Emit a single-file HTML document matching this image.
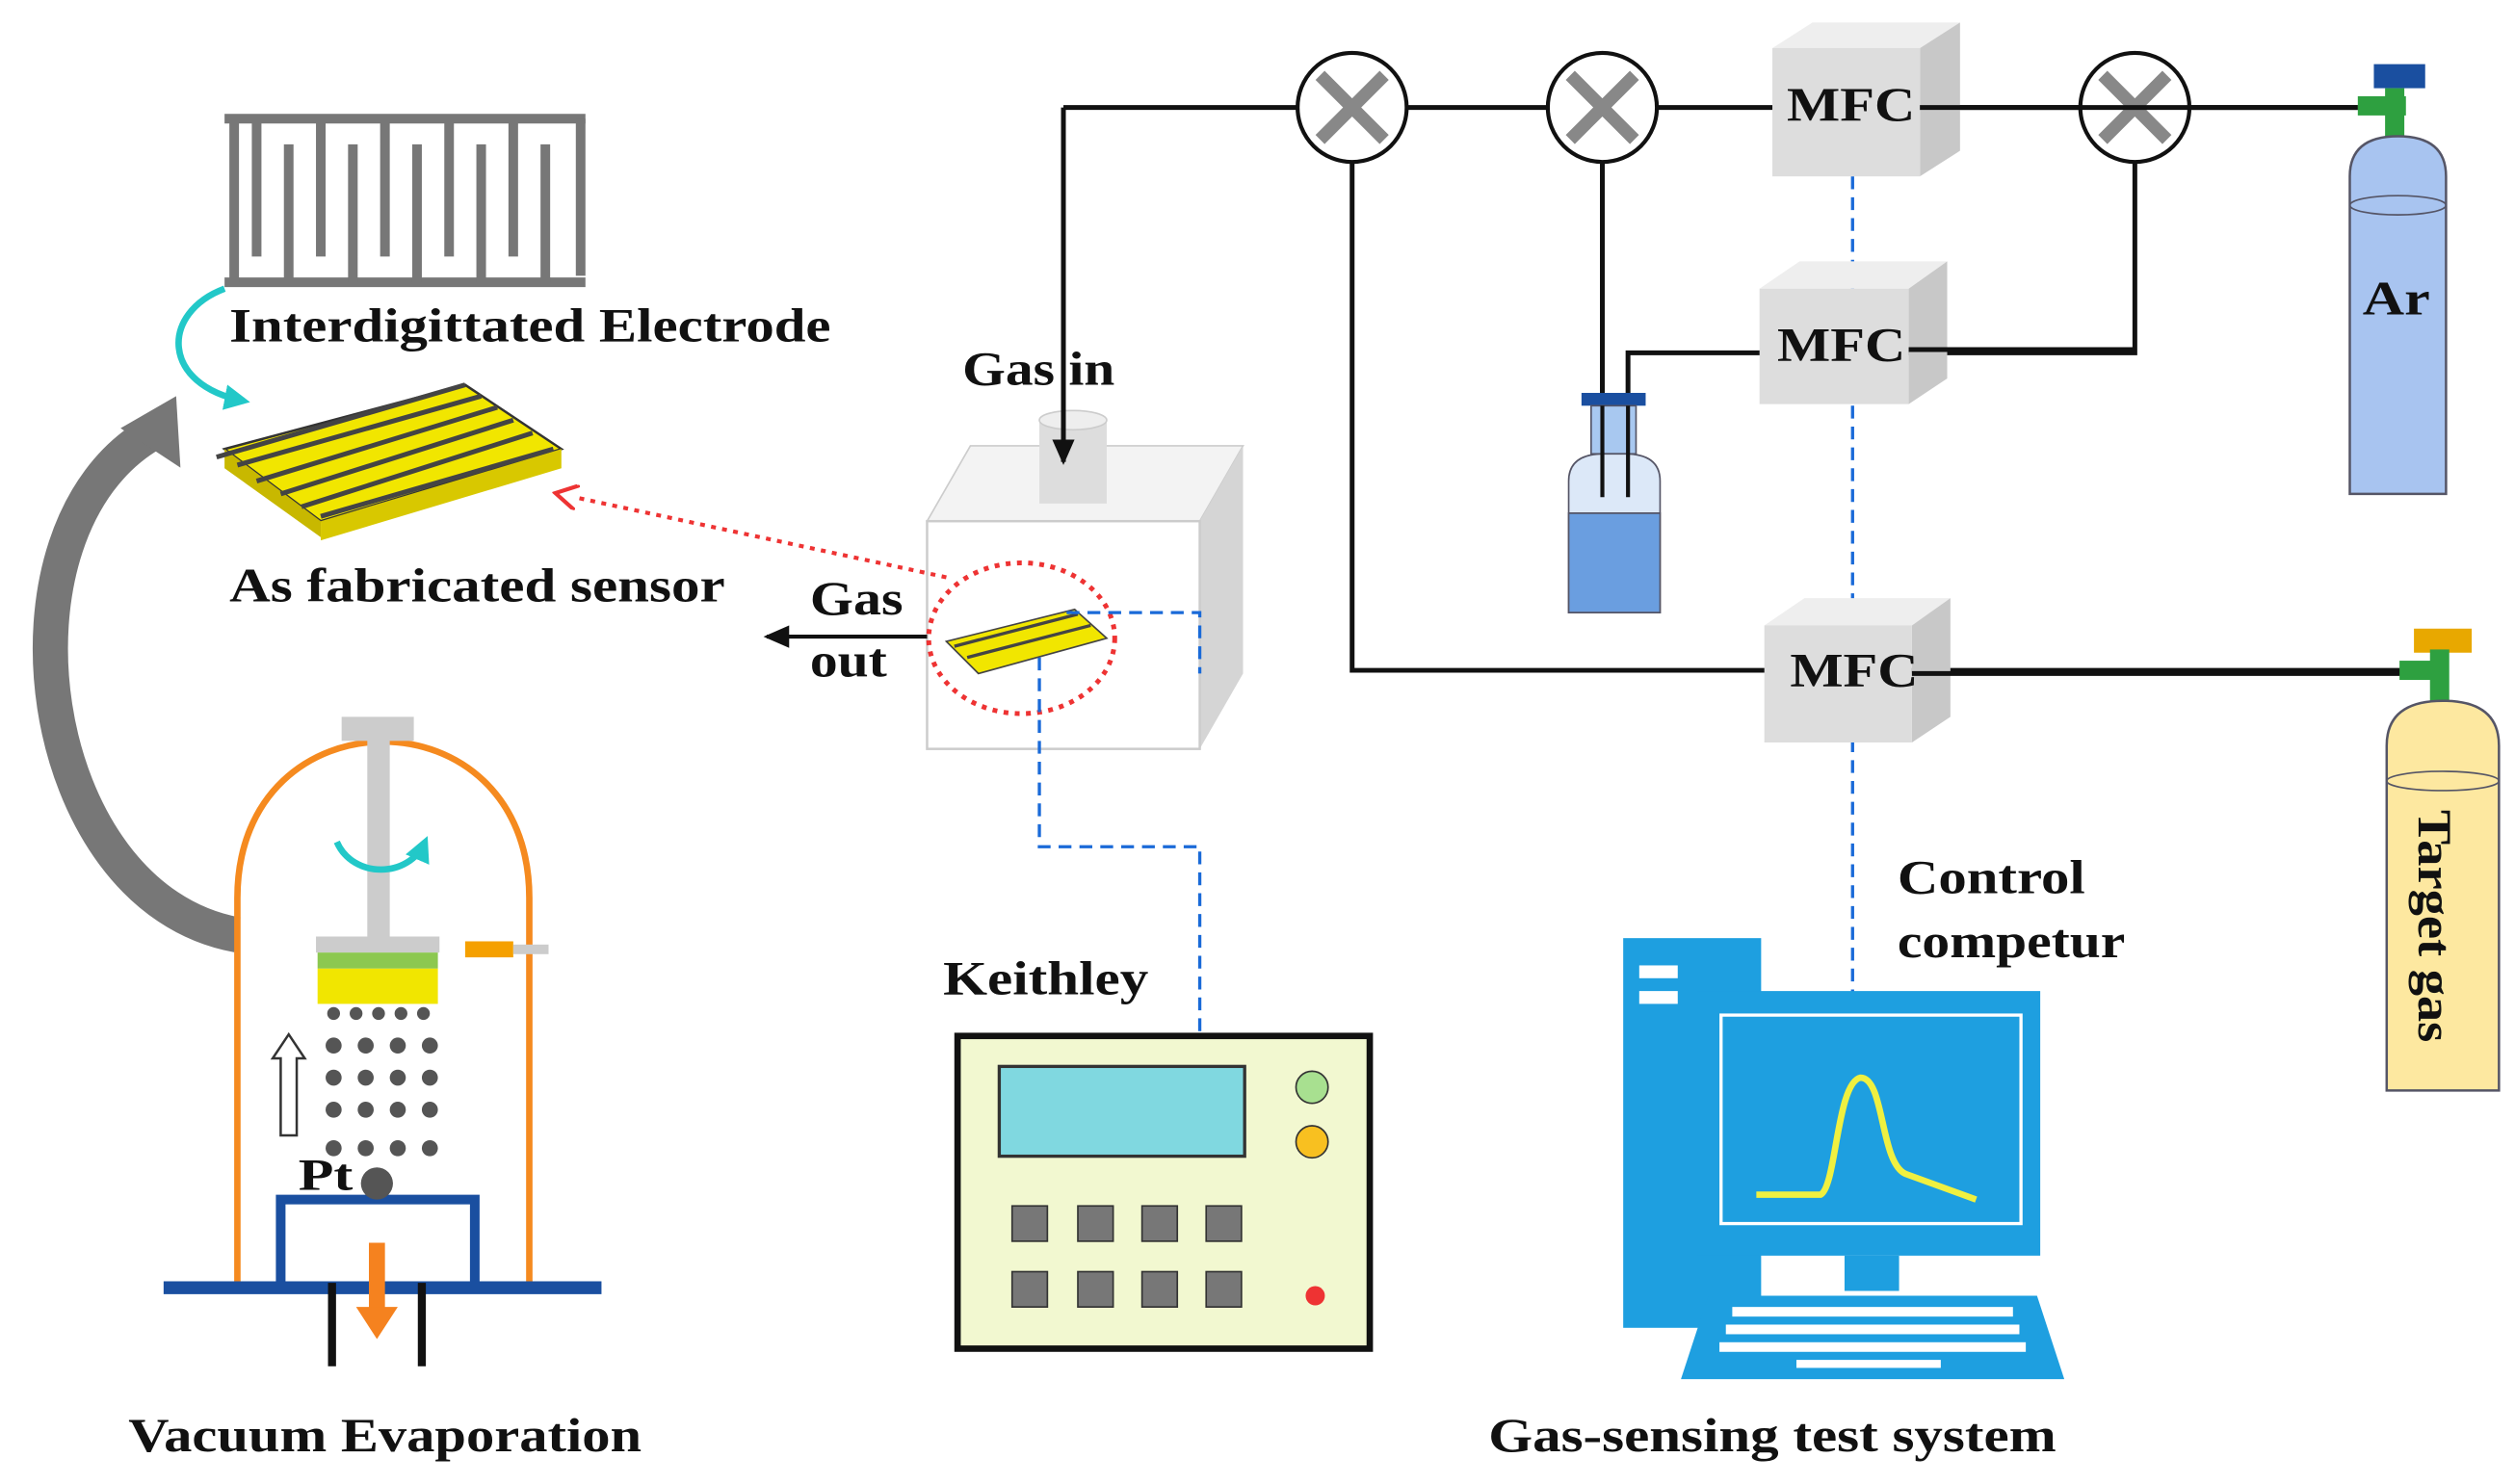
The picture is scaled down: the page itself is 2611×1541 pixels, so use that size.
<!DOCTYPE html>
<html><head><meta charset="utf-8"><style>html,body{margin:0;padding:0;background:#fff}svg{display:block}text{font-family:"Liberation Serif",serif;font-weight:bold;fill:#111}</style></head><body>
<svg width="2611" height="1541" viewBox="0 0 1568 925.4" preserveAspectRatio="none" xmlns="http://www.w3.org/2000/svg">
<defs>
<marker id="ab" markerUnits="userSpaceOnUse" markerWidth="16" markerHeight="14" refX="14" refY="7" orient="auto"><path d="M0,0 L16,7 L0,14 z" fill="#111"/></marker>
<marker id="ar" markerUnits="userSpaceOnUse" markerWidth="16" markerHeight="16" refX="2" refY="8" orient="auto"><path d="M0,0 L14,8 L0,16" fill="none" stroke="#e33" stroke-width="2.5"/></marker>
<marker id="ac" markerUnits="userSpaceOnUse" markerWidth="16" markerHeight="16" refX="12" refY="8" orient="auto"><path d="M0,0 L16,8 L0,16 z" fill="#22c8c8"/></marker>
</defs>
<!-- Interdigitated electrode -->
<g stroke="#777" stroke-width="6" fill="none">
<path d="M140,74 H365 M140,176 H365"/>
<path d="M146,76 V176 M362,74 V172"/>
<path d="M160,76 V160 M180,90 V176 M200,76 V160 M220,90 V176 M240,76 V160 M260,90 V176 M280,76 V160 M300,90 V176 M320,76 V160 M340,90 V176"/>
</g>
<text x="143" y="213" font-size="30" textLength="375" lengthAdjust="spacingAndGlyphs">Interdigittated Electrode</text>
<path d="M140,180 C100,195 100,240 152,250" stroke="#22c8c8" stroke-width="4" fill="none" marker-end="url(#ac)"/>
<!-- sensor -->
<polygon points="140,280 290,240 350,280 200,325" fill="#f1e600" stroke="#333" stroke-width="1.5"/>
<polygon points="140,280 200,325 200,335 140,292" fill="#c8b800"/>
<polygon points="200,325 350,280 350,292 200,337" fill="#d8c800"/>
<g stroke="#444" stroke-width="3"><path d="M135,285 L290,240 M148,290 L300,247 M160,300 L310,254 M175,308 L320,262 M188,316 L332,270 M200,322 L345,280"/></g>
<text x="143" y="375" font-size="30" textLength="309" lengthAdjust="spacingAndGlyphs">As fabricated sensor</text>
<!-- big gray arrow -->
<path d="M148,583 C20,560 -10,330 95,270" stroke="#777" stroke-width="22" fill="none"/>
<polygon points="80,255 120,255 100,295" fill="#777" transform="rotate(-30 100 270)"/>
<!-- vacuum chamber -->
<path d="M148,800 V560 C148,430 330,430 330,560 V800" stroke="#f58a1f" stroke-width="4" fill="none"/>
<path d="M102,803 H375" stroke="#1a4fa0" stroke-width="8"/>
<path d="M175,800 V748 H296 V800" stroke="#1a4fa0" stroke-width="6" fill="none"/>
<path d="M207,852 V800 M263,852 V800" stroke="#111" stroke-width="5"/>
<rect x="213" y="447" width="45" height="15" fill="#ccc"/>
<rect x="229" y="460" width="14" height="130" fill="#ccc"/>
<rect x="197" y="584" width="77" height="10" fill="#ccc"/>
<rect x="198" y="594" width="75" height="10" fill="#8cc850"/>
<rect x="198" y="604" width="75" height="22" fill="#f1e600"/>
<rect x="290" y="587" width="30" height="10" fill="#f5a000"/><rect x="320" y="589" width="22" height="6" fill="#ccc"/>
<path d="M210,525 C220,548 255,548 265,525" stroke="#22c8c8" stroke-width="4" fill="none" marker-end="url(#ac)"/>
<g fill="#555">
<circle cx="208" cy="632" r="4"/><circle cx="222" cy="632" r="4"/><circle cx="236" cy="632" r="4"/><circle cx="250" cy="632" r="4"/><circle cx="264" cy="632" r="4"/>
<circle cx="208" cy="652" r="5"/><circle cx="228" cy="652" r="5"/><circle cx="248" cy="652" r="5"/><circle cx="268" cy="652" r="5"/>
<circle cx="208" cy="672" r="5"/><circle cx="228" cy="672" r="5"/><circle cx="248" cy="672" r="5"/><circle cx="268" cy="672" r="5"/>
<circle cx="208" cy="692" r="5"/><circle cx="228" cy="692" r="5"/><circle cx="248" cy="692" r="5"/><circle cx="268" cy="692" r="5"/>
<circle cx="208" cy="716" r="5"/><circle cx="228" cy="716" r="5"/><circle cx="248" cy="716" r="5"/><circle cx="268" cy="716" r="5"/>
<circle cx="235" cy="738" r="10"/></g>
<path d="M175,708 V660 H170 L180,645 L190,660 H185 V708 Z" fill="#fff" stroke="#333" stroke-width="1.5"/>
<path d="M235,775 V820" stroke="#f5821f" stroke-width="10"/><polygon points="222,815 248,815 235,835" fill="#f5821f"/>
<text x="186" y="742" font-size="28" textLength="34" lengthAdjust="spacingAndGlyphs">Pt</text>
<text x="80" y="905" font-size="30" textLength="320" lengthAdjust="spacingAndGlyphs">Vacuum Evaporation</text>
<!-- gas chamber -->
<polygon points="578,325 605,278 775,278 748,325" fill="#f3f3f3" stroke="#ccc"/>
<polygon points="748,325 775,278 775,420 748,467" fill="#d5d5d5"/>
<rect x="578" y="325" width="170" height="142" fill="#fff" stroke="#ccc" stroke-width="1.5"/>
<rect x="648" y="262" width="42" height="52" fill="#ddd"/><ellipse cx="669" cy="262" rx="21" ry="6" fill="#eee" stroke="#ccc"/>
<text x="600" y="240" font-size="30" textLength="95" lengthAdjust="spacingAndGlyphs">Gas in</text>
<text x="505" y="383" font-size="30" textLength="58" lengthAdjust="spacingAndGlyphs">Gas</text><text x="505" y="422" font-size="30" textLength="48" lengthAdjust="spacingAndGlyphs">out</text>
<path d="M578,397 H478" stroke="#111" stroke-width="2.5" marker-end="url(#ab)"/>
<polygon points="590,400 670,380 690,398 610,420" fill="#f1e600" stroke="#444"/>
<path d="M595,403 L672,383 M603,410 L680,390" stroke="#444" stroke-width="2"/>
<ellipse cx="637" cy="398" rx="58" ry="47" fill="none" stroke="#e33" stroke-width="3" stroke-dasharray="3,4"/>
<path d="M590,360 L358,310" stroke="#e33" stroke-width="2.5" stroke-dasharray="3,4" marker-end="url(#ar)"/>
<path d="M648,410 V528 H748 V645 M665,382 H748 V420" stroke="#1a6ad8" stroke-width="2" stroke-dasharray="8,5" fill="none"/>
<!-- keithley -->
<text x="588" y="620" font-size="30" textLength="128" lengthAdjust="spacingAndGlyphs">Keithley</text>
<rect x="597" y="646" width="257" height="195" fill="#f2f8d0" stroke="#111" stroke-width="4"/>
<rect x="623" y="665" width="153" height="56" fill="#80d8e0" stroke="#333" stroke-width="2"/>
<circle cx="818" cy="678" r="10" fill="#a8e090" stroke="#333"/><circle cx="818" cy="712" r="10" fill="#f8c020" stroke="#333"/>
<g fill="#777" stroke="#333"><rect x="631" y="752" width="22" height="22"/><rect x="672" y="752" width="22" height="22"/><rect x="712" y="752" width="22" height="22"/><rect x="752" y="752" width="22" height="22"/>
<rect x="631" y="793" width="22" height="22"/><rect x="672" y="793" width="22" height="22"/><rect x="712" y="793" width="22" height="22"/><rect x="752" y="793" width="22" height="22"/></g>
<circle cx="820" cy="808" r="6" fill="#e33"/>
<!-- gas lines -->
<g stroke="#111" stroke-width="3" fill="none">
<path d="M663,67 H1470"/>
<path d="M663,67 V288" marker-end="url(#ab)"/>
<path d="M843,67 V418 H1500"/>
<path d="M999,67 V310"/>
<path d="M1015,310 V220 H1190 H1331 V67"/>
</g>
<!-- valves -->
<g><circle cx="843" cy="67" r="34" fill="#fff" stroke="#111" stroke-width="2.5"/><path d="M823,47 L863,87 M863,47 L823,87" stroke="#888" stroke-width="8"/>
<circle cx="999" cy="67" r="34" fill="#fff" stroke="#111" stroke-width="2.5"/><path d="M979,47 L1019,87 M1019,47 L979,87" stroke="#888" stroke-width="8"/>
<circle cx="1331" cy="67" r="34" fill="#fff" stroke="#111" stroke-width="2.5"/><path d="M1311,47 L1351,87 M1351,47 L1311,87" stroke="#888" stroke-width="8"/></g>
<!-- MFC boxes -->
<path d="M1155,110 V620" stroke="#1a6ad8" stroke-width="2" stroke-dasharray="8,5"/>
<g>
<polygon points="1105,30 1130,14 1222,14 1197,30" fill="#eee"/><polygon points="1197,30 1222,14 1222,94 1197,110" fill="#c8c8c8"/><rect x="1105" y="30" width="92" height="80" fill="#ddd"/>
<polygon points="1097,180 1122,163 1214,163 1190,180" fill="#eee"/><polygon points="1190,180 1214,163 1214,236 1190,252" fill="#c8c8c8"/><rect x="1097" y="180" width="93" height="72" fill="#ddd"/>
<polygon points="1100,390 1125,373 1216,373 1192,390" fill="#eee"/><polygon points="1192,390 1216,373 1216,447 1192,463" fill="#c8c8c8"/><rect x="1100" y="390" width="92" height="73" fill="#ddd"/>
</g>
<path d="M1197,67 H1470 M1190,218 H1331 M1192,420 H1500" stroke="#111" stroke-width="3"/>
<text x="1114" y="75" font-size="30" textLength="80" lengthAdjust="spacingAndGlyphs">MFC</text><text x="1108" y="225" font-size="30" textLength="80" lengthAdjust="spacingAndGlyphs">MFC</text><text x="1116" y="428" font-size="30" textLength="80" lengthAdjust="spacingAndGlyphs">MFC</text>
<!-- bottle -->
<rect x="986" y="245" width="40" height="8" fill="#1a4fa0"/>
<rect x="992" y="253" width="28" height="30" fill="#a8c8f0" stroke="#556"/>
<path d="M978,300 Q978,283 1000,283 H1013 Q1035,283 1035,300 V382 H978 Z" fill="#dce8f8" stroke="#556"/>
<path d="M978,320 H1035 V382 H978 Z" fill="#6a9ee0" stroke="#556"/>
<path d="M999,253 V310 M1015,253 V310" stroke="#111" stroke-width="2.5"/>
<!-- Ar cylinder -->
<rect x="1480" y="40" width="32" height="15" fill="#1a4fa0"/><rect x="1470" y="60" width="30" height="12" fill="#2ea040"/><rect x="1487" y="55" width="12" height="30" fill="#2ea040"/>
<path d="M1465,110 Q1465,85 1495,85 Q1525,85 1525,110 V308 H1465 Z" fill="#a8c4f0" stroke="#556" stroke-width="1.5"/>
<ellipse cx="1495" cy="128" rx="30" ry="6" fill="none" stroke="#556"/>
<text x="1473" y="196" font-size="30" textLength="42" lengthAdjust="spacingAndGlyphs">Ar</text>
<!-- target gas cylinder -->
<rect x="1505" y="392" width="36" height="15" fill="#e8a800"/><rect x="1496" y="412" width="30" height="12" fill="#2ea040"/><rect x="1515" y="405" width="12" height="32" fill="#2ea040"/>
<path d="M1488,465 Q1488,437 1523,437 Q1558,437 1558,465 V680 H1488 Z" fill="#fde8a0" stroke="#556" stroke-width="1.5"/>
<ellipse cx="1523" cy="487" rx="35" ry="6" fill="none" stroke="#556"/>
<text x="1508" y="505" font-size="30" transform="rotate(90 1508 505)" textLength="145" lengthAdjust="spacingAndGlyphs">Target gas</text>
<!-- computer -->
<text x="1183" y="557" font-size="30" textLength="117" lengthAdjust="spacingAndGlyphs">Control</text><text x="1183" y="597" font-size="30" textLength="142" lengthAdjust="spacingAndGlyphs">competur</text>
<rect x="1012" y="585" width="86" height="243" fill="#1e9fe0"/>
<rect x="1022" y="602" width="24" height="8" fill="#fff"/><rect x="1022" y="618" width="24" height="8" fill="#fff"/>
<rect x="1058" y="618" width="214" height="165" fill="#1e9fe0"/>
<rect x="1073" y="633" width="187" height="130" fill="#1e9fe0" stroke="#fff" stroke-width="2"/>
<path d="M1095,745 H1135 C1145,740 1145,675 1160,672 C1175,672 1172,725 1188,732 L1232,748" stroke="#f0f040" stroke-width="4" fill="none"/>
<rect x="1150" y="783" width="34" height="22" fill="#1e9fe0"/>
<polygon points="1065,808 1270,808 1287,860 1048,860" fill="#1e9fe0"/>
<g fill="#fff"><rect x="1080" y="815" width="175" height="6"/><rect x="1076" y="826" width="183" height="6"/><rect x="1072" y="837" width="191" height="6"/><rect x="1120" y="848" width="90" height="5"/></g>
<text x="928" y="905" font-size="30" textLength="354" lengthAdjust="spacingAndGlyphs">Gas-sensing test system</text>
</svg>
</body></html>
